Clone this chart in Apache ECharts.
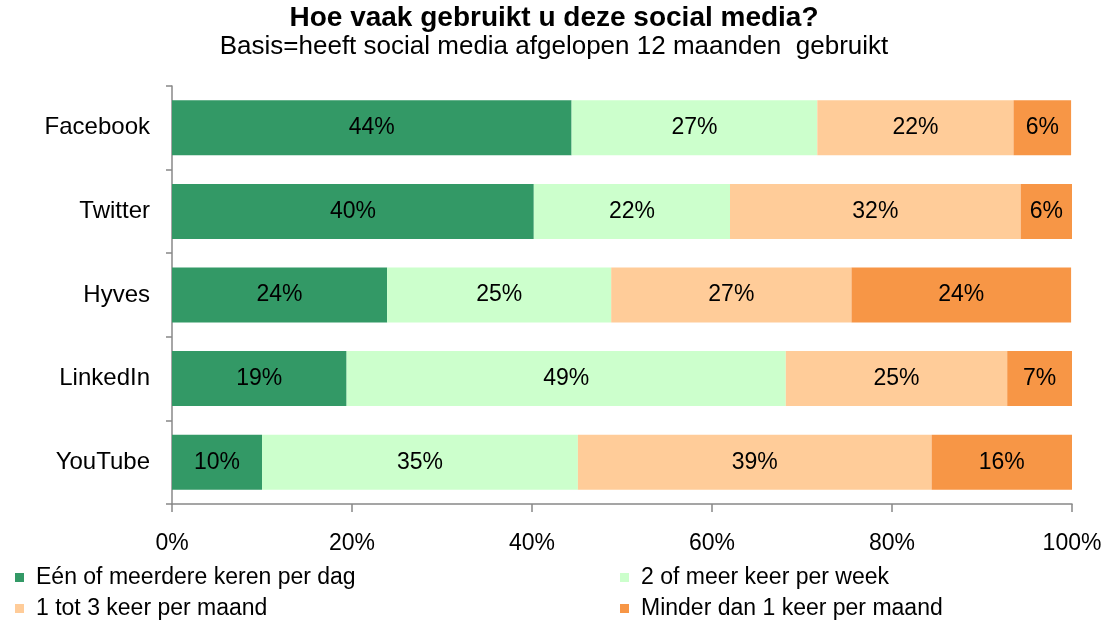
<!DOCTYPE html>
<html><head><meta charset="utf-8">
<script src="https://cdn.jsdelivr.net/npm/echarts@6/dist/echarts.min.js"></script>
<style>html,body{margin:0;padding:0;background:#fff}#c{width:1108px;height:622px}</style>
</head><body><div id="c"></div>
<script>
const categories = ['Facebook','Twitter','Hyves','LinkedIn','YouTube'];
const seriesNames = ['Eén of meerdere keren per dag','2 of meer keer per week','1 tot 3 keer per maand','Minder dan 1 keer per maand'];
const dagelijks = [44.4, 40.2, 23.9, 19.4, 10.0];
const wekelijks = [27.3, 21.8, 24.9, 48.8, 35.1];
const maandelijks = [21.8, 32.3, 26.7, 24.6, 39.3];
const minder = [6.4, 5.7, 24.4, 7.2, 15.6];
const xTicks = [0,20,40,60,80,100];
const colors = ['#339966','#CCFFCC','#FFCC99','#F79646'];
const values = [dagelijks, wekelijks, maandelijks, minder];
const font = '"Liberation Sans", Arial, sans-serif';

const chart = echarts.init(document.getElementById('c'));
const series = seriesNames.map((n,i)=>({
  name:n, type:'bar', stack:'t', data: values[i], barWidth:55,
  itemStyle:{color:colors[i]},
  label:{show:true, position:'inside', formatter:p=>Math.round(p.value)+'%', color:'#000', fontSize:23, fontFamily:font}
}));
const legendPos = [[15,566],[620,566],[15,597],[620,597]];
const legends = seriesNames.map((n,i)=>({
  data:[n], left:legendPos[i][0], top:legendPos[i][1], icon:'rect', itemWidth:9, itemHeight:9, padding:0,
  textStyle:{fontSize:23, fontFamily:font, color:'#000', padding:[0,0,0,7]}, selectedMode:false
}));
chart.setOption({
  animation:false,
  title:{text:'Hoe vaak gebruikt u deze social media?', subtext:'Basis=heeft social media afgelopen 12 maanden  gebruikt',
    left:'center', top:2, itemGap:2, padding:[2,0,0,0],
    textStyle:{fontSize:28, fontWeight:'bold', fontFamily:font, color:'#000'},
    subtextStyle:{fontSize:26, fontFamily:font, color:'#000'}},
  legend: legends,
  grid:{left:172, right:36, top:86, bottom:118, containLabel:false},
  xAxis:{type:'value', min:0, max:100, interval:20,
    axisLine:{show:true, lineStyle:{color:'#888', width:1.5}},
    axisTick:{show:true, length:8, lineStyle:{color:'#888', width:1.5}},
    splitLine:{show:false},
    axisLabel:{formatter:v=>v+'%', fontSize:23, fontFamily:font, color:'#000', margin:28}},
  yAxis:{type:'category', data:categories, inverse:true,
    axisLine:{show:true, lineStyle:{color:'#888', width:1.5}},
    axisTick:{show:true, length:6, lineStyle:{color:'#888', width:1.5}},
    axisLabel:{fontSize:24, fontFamily:font, color:'#000', margin:22}},
  series: series
});
</script></body></html>
